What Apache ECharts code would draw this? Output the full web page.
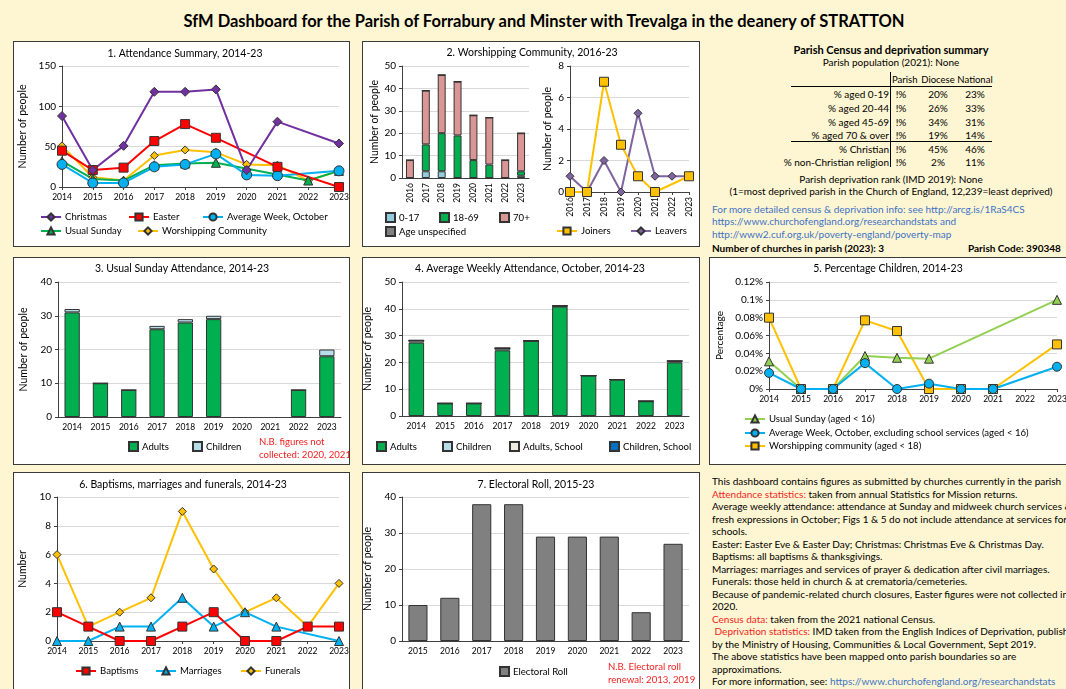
<!DOCTYPE html>
<html>
<head>
<meta charset="utf-8">
<script src="https://cdn.jsdelivr.net/npm/echarts@6/dist/echarts.min.js"></script>
<style>
html, body { margin: 0; padding: 0; }
body { width: 1066px; height: 689px; overflow: hidden; background: #FEF6D2; position: relative; font-family: Lato, 'Open Sans', sans-serif; color: #000; }
.panel { position: absolute; background: #fff; }
.frame { position: absolute; border: 1.5px solid #3a3a3a; box-sizing: border-box; pointer-events: none; }
.t { position: absolute; white-space: nowrap; font-size: 10px; line-height: 12px; }
.c { transform: translate(-50%, -50%); }
.l { transform: translateY(-50%); }
.r { transform: translate(-100%, -50%); }
.b { font-weight: bold; }
.red { color: #F21E1E; }
.blue { color: #3D72C6; }
.hl { position: absolute; height: 1px; background: #000; }
.vl { position: absolute; width: 1px; background: #000; }
.hd { font-size: 9.5px; }
#notes { position: absolute; left: 712px; top: 475px; font-size: 10px; line-height: 12.5px; white-space: nowrap; }
</style>
</head>
<body>
<div class="t b c" style="left:544px;top:21px;font-size:16.5px;">SfM Dashboard for the Parish of Forrabury and Minster with Trevalga in the deanery of STRATTON</div>

<div class="t b c" style="left:891px;top:50px;font-size:11px;">Parish Census and deprivation summary</div>
<div class="t c" style="left:891px;top:62px;">Parish population (2021): None</div>
<div class="t l hd" style="left:892px;top:80px;">Parish</div>
<div class="t c hd" style="left:938px;top:80px;">Diocese</div>
<div class="t c hd" style="left:975px;top:80px;">National</div>
<div class="hl" style="left:791px;top:86px;width:201px;"></div>
<div class="hl" style="left:791px;top:141px;width:201px;"></div>
<div class="vl" style="left:890px;top:72px;height:95px;"></div>
<div id="census"></div>
<div class="t c" style="left:891px;top:179px;">Parish deprivation rank (IMD 2019): None</div>
<div class="t c" style="left:891px;top:191px;">(1=most deprived parish in the Church of England, 12,239=least deprived)</div>
<div class="t l blue" style="left:712px;top:209px;">For more detailed census &amp; deprivation info: see http://arcg.is/1RaS4CS</div>
<div class="t l blue" style="left:712px;top:221px;">https://www.churchofengland.org/researchandstats and</div>
<div class="t l blue" style="left:712px;top:234px;">http://www2.cuf.org.uk/poverty-england/poverty-map</div>
<div class="t l b" style="left:712px;top:248px;">Number of churches in parish (2023): 3</div>
<div class="t l b" style="left:968px;top:248px;">Parish Code: 390348</div>

<div id="notes">
This dashboard contains figures as submitted by churches currently in the parish<br>
<span class="red">Attendance statistics:</span> taken from annual Statistics for Mission returns.<br>
Average weekly attendance: attendance at Sunday and midweek church services &amp;<br>
fresh expressions in October; Figs 1 &amp; 5 do not include attendance at services for<br>
schools.<br>
Easter: Easter Eve &amp; Easter Day; Christmas: Christmas Eve &amp; Christmas Day.<br>
Baptisms: all baptisms &amp; thanksgivings.<br>
Marriages: marriages and services of prayer &amp; dedication after civil marriages.<br>
Funerals: those held in church &amp; at crematoria/cemeteries.<br>
Because of pandemic-related church closures, Easter figures were not collected in<br>
2020.<br>
<span class="red">Census data:</span> taken from the 2021 national Census.<br>
&nbsp;<span class="red">Deprivation statistics:</span> IMD taken from the English Indices of Deprivation, published<br>
by the Ministry of Housing, Communities &amp; Local Government, Sept 2019.<br>
The above statistics have been mapped onto parish boundaries so are<br>
approximations.<br>
For more information, see: <span class="blue">https://www.churchofengland.org/researchandstats</span>
</div>

<script>
// years on the category axes
const years = ['2014', '2015', '2016', '2017', '2018', '2019', '2020', '2021', '2022', '2023'];
const wcYears = ['2016', '2017', '2018', '2019', '2020', '2021', '2022', '2023'];
const erYears = ['2015', '2016', '2017', '2018', '2019', '2020', '2021', '2022', '2023'];

// 1. attendance summary
const christmas = [88, 21, 51, 118, 118, 121, 21, 81, null, 54];
const easter = [45, 21, 24, 57, 78, 61, null, 25, null, 0];
const avgWeek = [28, 5, 5, 25, 28, 41, 15, 14, null, 20];
const usualSunday = [32, 10, 8, 27, 29, 30, null, null, 8, 20];
const worshipping = [51, 12, 8, 39, 46, 43, 28, 27, 8, 20];

// 2. worshipping community by age, joiners and leavers
const wcAge0to17 = [0, 3, 3, 0, 0, 0, 0, 1];
const wcAge18to69 = [0, 12, 17, 19, 8, 6, 0, 2];
const wcAge70plus = [8, 24, 26, 24, 20, 21, 8, 17];
const wcAgeUnspec = [0, 0, 0, 0, 0, 0, 0, 0];
const joiners = [0, 0, 7, 3, 1, 0, null, 1];
const leavers = [1, 0, 2, 0, 5, 1, 1, 1];

// 3. usual sunday
const usAdults = [31, 10, 8, 26, 28, 29, null, null, 8, 18];
const usChildren = [1, 0, 0, 1, 1, 1, null, null, 0, 2];

// 4. average weekly, october
const awAdults = [27.4, 4.7, 4.7, 24.5, 28, 40.8, 15.1, 13.6, 5.5, 20];
const awChildren = [0.8, 0, 0, 0.8, 0, 0.3, 0, 0, 0, 0.5];
const awAdultsSchool = [0, 0, 0, 0, 0, 0, 0, 0, 0, 0];
const awChildrenSchool = [0, 0, 0, 0, 0, 0, 0, 0, 0, 0];

// 5. percentage children
const pcUsualSunday = [0.031, 0, 0, 0.037, 0.035, 0.034, null, null, null, 0.1];
const pcAvgWeek = [0.018, 0, 0, 0.029, 0, 0.006, 0, 0, null, 0.025];
const pcWorshipping = [0.08, 0, 0, 0.077, 0.065, 0, 0, 0, null, 0.05];

// 6. occasional offices
const baptisms = [2, 1, 0, 0, 1, 2, 0, 0, 1, 1];
const marriages = [0, 0, 1, 1, 3, 1, 2, 1, null, 0];
const funerals = [6, 1, 2, 3, 9, 5, 2, 3, 1, 4];

// 7. electoral roll
const electoralRoll = [10, 12, 38, 38, 29, 29, 29, 8, 27];

// census table
const censusRows = ['% aged 0-19', '% aged 20-44', '% aged 45-69', '% aged 70 & over', '% Christian', '% non-Christian religion'];
const censusParish = ['!%', '!%', '!%', '!%', '!%', '!%'];
const censusDiocese = ['20%', '26%', '34%', '19%', '45%', '2%'];
const censusNational = ['23%', '33%', '31%', '14%', '46%', '11%'];
const censusRowY = [94, 108, 122, 135, 149, 162];

const cBox = document.getElementById('census');
censusRows.forEach(function (row, i) {
  const y = censusRowY[i];
  cBox.insertAdjacentHTML('beforeend',
    '<div class="t r" style="left:889px;top:' + y + 'px;">' + row.replace('&', '&amp;') + '</div>' +
    '<div class="t c" style="left:901px;top:' + y + 'px;">' + censusParish[i] + '</div>' +
    '<div class="t c" style="left:938px;top:' + y + 'px;">' + censusDiocese[i] + '</div>' +
    '<div class="t c" style="left:975px;top:' + y + 'px;">' + censusNational[i] + '</div>');
});

const FONT = 'Lato';
const EDGE = '#333';
const LEG_SIZE = 9.6;

function mk(rect) {
  const d = document.createElement('div');
  d.className = 'panel';
  d.style.left = rect[0] + 'px';
  d.style.top = rect[1] + 'px';
  d.style.width = rect[2] + 'px';
  d.style.height = rect[3] + 'px';
  document.body.appendChild(d);
  const f = document.createElement('div');
  f.className = 'frame';
  f.style.left = rect[0] + 'px';
  f.style.top = rect[1] + 'px';
  f.style.width = rect[2] + 'px';
  f.style.height = rect[3] + 'px';
  document.body.appendChild(f);
  return echarts.init(d);
}

function title(text, x, y) {
  return { type: 'text', x: x, y: y, style: { text: text, font: '10.5px Lato', fill: '#000', textAlign: 'center', textVerticalAlign: 'middle' } };
}
function note(text, x, y) {
  return { type: 'text', x: x, y: y, style: { text: text, font: LEG_SIZE + 'px Lato', fill: '#F21E1E', textAlign: 'left', textVerticalAlign: 'middle' } };
}

function catAxis(data, gridIndex, boundaryGap, extra) {
  return Object.assign({
    type: 'category', data: data, gridIndex: gridIndex, boundaryGap: boundaryGap,
    axisLine: { lineStyle: { color: '#404040', width: 1 } },
    axisTick: { show: !boundaryGap, length: 3, lineStyle: { color: '#404040' } },
    axisLabel: { color: '#000', fontSize: 8.5, fontFamily: FONT, margin: 6, interval: 0 }
  }, extra || {});
}
function valAxis(max, interval, gridIndex, name, nameGap, extra) {
  return Object.assign({
    type: 'value', min: 0, max: max, interval: interval, gridIndex: gridIndex,
    name: name, nameLocation: 'middle', nameGap: nameGap,
    nameTextStyle: { color: '#000', fontSize: 10.5, fontFamily: FONT },
    axisLine: { show: true, lineStyle: { color: '#404040' } },
    axisTick: { show: true, length: 3, lineStyle: { color: '#404040' } },
    axisLabel: { color: '#000', fontSize: 10, fontFamily: FONT, margin: 6 },
    splitLine: { lineStyle: { color: '#D9D9D9' } }
  }, extra || {});
}
function line(name, data, color, symbol, size, extra) {
  return Object.assign({
    type: 'line', name: name, data: data, connectNulls: true,
    symbol: symbol, symbolSize: size,
    lineStyle: { color: color, width: 2 },
    itemStyle: { color: color, borderColor: EDGE, borderWidth: 1 },
    emphasis: { disabled: true }
  }, extra || {});
}
function bar(name, data, color, width, extra) {
  return Object.assign({
    type: 'bar', name: name, data: data, stack: 'total', barWidth: width,
    itemStyle: { color: color, borderColor: EDGE, borderWidth: 1 },
    emphasis: { disabled: true }
  }, extra || {});
}
function leg(name, x, y, box) {
  return {
    data: [name], left: x, top: y - 7, padding: 0, selectedMode: false,
    icon: box ? 'rect' : undefined,
    itemWidth: box ? 9 : 20, itemHeight: 9,
    textStyle: { fontSize: LEG_SIZE, fontFamily: FONT, color: '#000', padding: [0, 0, 0, -1] }
  };
}

// 1. Attendance summary
const c1 = mk([13, 41, 337, 206]);
c1.setOption({
  animation: false,
  graphic: [title('1. Attendance Summary, 2014-23', 172, 13)],
  grid: { left: 49, top: 25, width: 277, height: 121, outerBoundsMode: 'none' },
  xAxis: catAxis(years, 0, false),
  yAxis: valAxis(150, 50, 0, 'Number of people', 28),
  legend: [
    leg('Christmas', 27, 178), leg('Easter', 115, 178), leg('Average Week, October', 189, 178),
    leg('Usual Sunday', 27, 192), leg('Worshipping Community', 124, 192)
  ],
  series: [
    line('Worshipping Community', worshipping, '#FFC000', 'diamond', 8),
    line('Usual Sunday', usualSunday, '#00B050', 'triangle', 9),
    line('Average Week, October', avgWeek, '#00B0F0', 'circle', 10),
    line('Easter', easter, '#FF0000', 'rect', 9),
    line('Christmas', christmas, '#7030A0', 'diamond', 9)
  ]
});

// 2. Worshipping community
const c2 = mk([362, 41, 338, 206]);
const rotLabel = { color: '#000', fontSize: 8.5, fontFamily: FONT, margin: 5, interval: 0, rotate: 90 };
c2.setOption({
  animation: false,
  graphic: [title('2. Worshipping Community, 2016-23', 170, 12)],
  grid: [
    { left: 40, top: 25, width: 127, height: 112, outerBoundsMode: 'none' },
    { left: 208, top: 25, width: 119, height: 126, outerBoundsMode: 'none' }
  ],
  xAxis: [
    catAxis(wcYears, 0, true, { axisLabel: rotLabel }),
    catAxis(wcYears, 1, false, { axisLabel: rotLabel })
  ],
  yAxis: [
    valAxis(50, 10, 0, 'Number of people', 21),
    valAxis(8, 2, 1, 'Number of people', 17)
  ],
  legend: [
    leg('0-17', 23, 178, true), leg('18-69', 77, 178, true), leg('70+', 137, 178, true),
    leg('Age unspecified', 23, 192, true),
    leg('Joiners', 194, 192), leg('Leavers', 268, 192)
  ],
  series: [
    bar('0-17', wcAge0to17, '#93CDDD', '50%'),
    bar('18-69', wcAge18to69, '#00B050', '50%'),
    bar('70+', wcAge70plus, '#D99694', '50%'),
    bar('Age unspecified', wcAgeUnspec, '#808080', '50%'),
    line('Leavers', leavers, '#7F649F', 'diamond', 8, { xAxisIndex: 1, yAxisIndex: 1 }),
    line('Joiners', joiners, '#FFC000', 'rect', 9, { xAxisIndex: 1, yAxisIndex: 1 })
  ]
});

// 3. Usual Sunday attendance
const c3 = mk([13, 257, 337, 208]);
c3.setOption({
  animation: false,
  graphic: [
    title('3. Usual Sunday Attendance, 2014-23', 169, 12),
    note('N.B. figures not', 246, 185),
    note('collected: 2020, 2021', 246, 198)
  ],
  grid: { left: 45, top: 25, width: 283, height: 135, outerBoundsMode: 'none' },
  xAxis: catAxis(years, 0, true),
  yAxis: valAxis(40, 10, 0, 'Number of people', 25),
  legend: [leg('Adults', 115, 191, true), leg('Children', 179, 191, true)],
  series: [
    bar('Adults', usAdults, '#00B050', '54%'),
    bar('Children', usChildren, '#B7DEE8', '54%')
  ]
});

// 4. Average weekly attendance
const c4 = mk([362, 257, 338, 208]);
c4.setOption({
  animation: false,
  graphic: [title('4. Average Weekly Attendance, October, 2014-23', 168, 12)],
  grid: { left: 40, top: 25, width: 287, height: 134, outerBoundsMode: 'none' },
  xAxis: catAxis(years, 0, true),
  yAxis: valAxis(50, 10, 0, 'Number of people', 21),
  legend: [
    leg('Adults', 14, 191, true), leg('Children', 80, 191, true),
    leg('Adults, School', 147, 191, true), leg('Children, School', 247, 191, true)
  ],
  series: [
    bar('Adults', awAdults, '#00B050', '54%'),
    bar('Children', awChildren, '#B7DEE8', '54%'),
    bar('Adults, School', awAdultsSchool, '#EEECE1', '54%'),
    bar('Children, School', awChildrenSchool, '#0070C0', '54%')
  ]
});

// 5. Percentage children
const c5 = mk([709, 257, 359, 208]);
c5.setOption({
  animation: false,
  graphic: [title('5. Percentage Children, 2014-23', 179, 12)],
  grid: { left: 60, top: 25, width: 288, height: 107, outerBoundsMode: 'none' },
  xAxis: catAxis(years, 0, false),
  yAxis: valAxis(0.12, 0.02, 0, 'Percentage', 39, {
    axisLabel: { color: '#000', fontSize: 10, fontFamily: FONT, margin: 6, formatter: function (v) { return (Math.round(v * 1000) / 1000) + '%'; } },
    nameTextStyle: { color: '#000', fontSize: 10, fontFamily: FONT }
  }),
  legend: [
    leg('Usual Sunday (aged < 16)', 35, 164),
    leg('Average Week, October, excluding school services (aged < 16)', 35, 178),
    leg('Worshipping community (aged < 18)', 35, 191)
  ],
  series: [
    line('Worshipping community (aged < 18)', pcWorshipping, '#FFC000', 'rect', 9),
    line('Usual Sunday (aged < 16)', pcUsualSunday, '#92D050', 'triangle', 9),
    line('Average Week, October, excluding school services (aged < 16)', pcAvgWeek, '#00B0F0', 'circle', 9)
  ]
});

// 6. Baptisms, marriages and funerals
const c6 = mk([13, 472, 337, 230]);
c6.setOption({
  animation: false,
  graphic: [title('6. Baptisms, marriages and funerals, 2014-23', 170, 13)],
  grid: { left: 44, top: 25, width: 282, height: 144, outerBoundsMode: 'none' },
  xAxis: catAxis(years, 0, false),
  yAxis: valAxis(10, 2, 0, 'Number', 24),
  legend: [leg('Baptisms', 62, 201), leg('Marriages', 142, 201), leg('Funerals', 227, 201)],
  series: [
    line('Funerals', funerals, '#FFC000', 'diamond', 8),
    line('Marriages', marriages, '#00B0F0', 'triangle', 9),
    line('Baptisms', baptisms, '#FF0000', 'rect', 9)
  ]
});

// 7. Electoral roll
const c7 = mk([362, 472, 338, 230]);
c7.setOption({
  animation: false,
  graphic: [
    title('7. Electoral Roll, 2015-23', 174, 13),
    note('N.B. Electoral roll', 246, 195),
    note('renewal: 2013, 2019', 246, 208)
  ],
  grid: { left: 40, top: 25, width: 287, height: 144, outerBoundsMode: 'none' },
  xAxis: catAxis(erYears, 0, true),
  yAxis: valAxis(40, 10, 0, 'Number of people', 21),
  legend: [leg('Electoral Roll', 137, 201, true)],
  series: [bar('Electoral Roll', electoralRoll, '#808080', '60%')]
});
</script>
</body>
</html>
